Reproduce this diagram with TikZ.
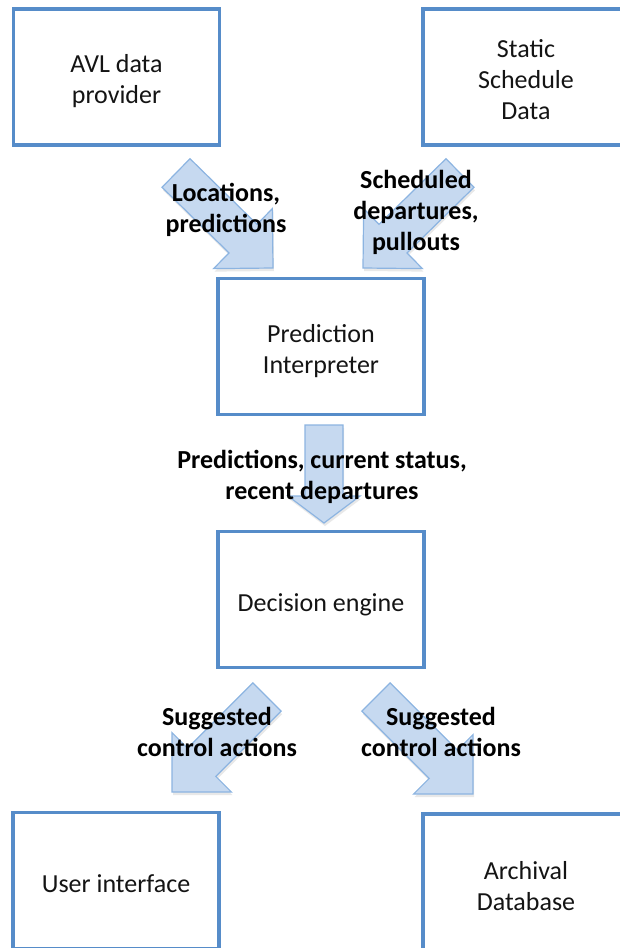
\documentclass[tikz,border=0pt]{standalone}
\usepackage{fontspec}
\setmainfont{Carlito}
\usetikzlibrary{calc,shadows}

\definecolor{boxline}{RGB}{86,140,201}
\definecolor{arrowfill}{RGB}{198,217,240}
\definecolor{arrowline}{RGB}{140,180,225}

\tikzset{
  stage/.style={draw=boxline, line width=3.5pt, fill=white,
    minimum width=206pt, minimum height=136pt, inner sep=0pt},
  stagetext/.style={align=center, inner sep=0pt,
    font=\fontsize{26}{31}\selectfont, text=black!92},
  flowlabel/.style={align=center, inner sep=0pt,
    font=\fontsize{26}{31}\selectfont\bfseries, text=black},
  blockarrow/.style={draw=arrowline, fill=arrowfill, line width=1.2pt,
    line join=miter,
    drop shadow={opacity=0.18, shadow xshift=1pt, shadow yshift=-3pt}}
}

% Block arrow from a tail coordinate to a tip coordinate.
% #1 tail, #2 tip, #3 shaft half width, #4 head half width, #5 head length
\newcommand\flowarrow[5]{%
  \coordinate (#1-hb) at ($(#2)!#5!(#1)$);
  \path[blockarrow]
    ($(#1)!#3!90:(#2)$) --
    ($(#1-hb)!#3!90:(#2)$) --
    ($(#1-hb)!#4!90:(#2)$) --
    (#2) --
    ($(#1-hb)!#4!-90:(#2)$) --
    ($(#1-hb)!#3!-90:(#2)$) --
    ($(#1)!#3!-90:(#2)$) -- cycle;
}

\begin{document}
\begin{tikzpicture}[x=1pt,y=-1pt]
  \useasboundingbox (0,0) rectangle (620,948);
  \clip (0,0) rectangle (620,948);

  % stages of the pipeline
  \node[stage] (avl)    at (116.5,77)  {};
  \node[stage] (sched)  at (526,77)    {};
  \node[stage] (interp) at (321,346.5) {};
  \node[stage] (engine) at (321,599.5) {};
  \node[stage] (ui)     at (116,880.5) {};
  \node[stage] (arch)   at (526,882)   {};

  % their names, set a little below the middle of each box
  \node[stagetext] (avl-t)    at ($(avl)+(0,4)$)    {AVL data\\provider};
  \node[stagetext] (sched-t)  at ($(sched)+(0,3)$)  {Static\\Schedule\\Data};
  \node[stagetext] (interp-t) at ($(interp)+(0,5)$) {Prediction\\Interpreter};
  \node[stagetext] (engine-t) at ($(engine)+(0,5)$) {Decision engine};
  \node[stagetext] (ui-t)     at ($(ui)+(0,3)$)     {User interface};
  \node[stagetext] (arch-t)   at ($(arch)+(0,4)$)   {Archival\\Database};

  % arrow ends
  \coordinate (a1) at (176,173);  \coordinate (a1tip) at (273,268);
  \coordinate (a2) at (460,173);  \coordinate (a2tip) at (363,268);
  \coordinate (a3) at (324,425);  \coordinate (a3tip) at (324,523);
  \coordinate (a4) at (267,697);  \coordinate (a4tip) at (172,792);
  \coordinate (a5) at (376,697);  \coordinate (a5tip) at (473,794);

  \flowarrow{a1}{a1tip}{20pt}{42pt}{42pt}
  \flowarrow{a2}{a2tip}{20pt}{42pt}{42pt}
  \flowarrow{a3}{a3tip}{19pt}{36pt}{27pt}
  \flowarrow{a4}{a4tip}{20pt}{42pt}{42pt}
  \flowarrow{a5}{a5tip}{20pt}{42pt}{42pt}

  % data carried by each arrow
  \node[flowlabel] (l1) at (226,210) {Locations,\\predictions};
  \node[flowlabel] (l2) at (416,212) {Scheduled\\departures,\\pullouts};
  \node[flowlabel] (l3) at (322,477) {Predictions, current status,\\recent departures};
  \node[flowlabel] (l4) at (217,732) {Suggested\\control actions};
  \node[flowlabel] (l5) at (441,732) {Suggested\\control actions};
\end{tikzpicture}
\end{document}
